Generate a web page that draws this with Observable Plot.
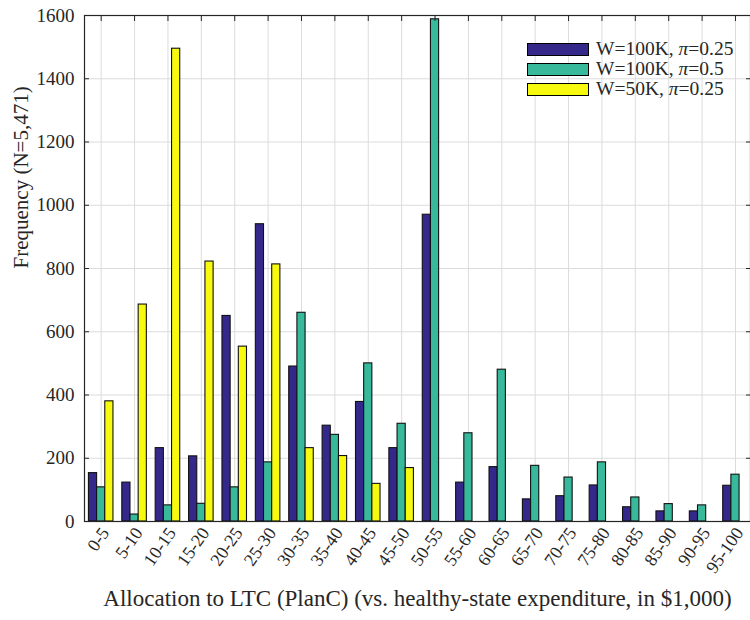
<!DOCTYPE html>
<html>
<head>
<meta charset="utf-8">
<script src="https://cdn.jsdelivr.net/npm/d3@7"></script>
<script src="https://cdn.jsdelivr.net/npm/@observablehq/plot@0.6"></script>
<style>
  html, body { margin: 0; padding: 0; background: #fff; }
  #chart { position: relative; width: 750px; height: 620px; font-family: "Liberation Serif", "DejaVu Serif", serif; }
  #chart svg, #chart svg text { font-family: "Liberation Serif", "DejaVu Serif", serif !important; }
  .legend { position: absolute; left: 527px; top: 39px; font-size: 19.5px; color: #262626; }
  .legend .row { display: flex; align-items: center; height: 20px; }
  .legend .row span { line-height: 18px; display: inline-block; }
  .legend .sw { width: 60px; height: 11px; border: 1.2px solid #000; margin-right: 7px; }
  .legend i { font-style: italic; }
</style>
</head>
<body>
<div id="chart"></div>
<script>
// Allocation bins (in $1,000)
const categories = ["0-5","5-10","10-15","15-20","20-25","25-30","30-35","35-40","40-45","45-50",
                    "50-55","55-60","60-65","65-70","70-75","75-80","80-85","85-90","90-95","95-100"];

// Frequencies per scenario
const seriesNames = ["W=100K, π=0.25", "W=100K, π=0.5", "W=50K, π=0.25"];
const w100p025 = [153,123,232,206,650,940,490,303,378,232,970,123,172,70,80,114,45,32,32,113];
const w100p05  = [108,22,51,56,108,187,660,274,500,309,1588,279,480,176,139,187,76,55,51,148];
const w50p025  = [380,686,1495,822,553,813,232,207,119,169,0,0,0,0,0,0,0,0,0,0];
const seriesColors = ["#34298a", "#38b99c", "#f7f90f"];

const yTicks = [0,200,400,600,800,1000,1200,1400,1600];

const seriesValues = [w100p025, w100p05, w50p025];
const barW = 0.245;
const rows = [];
categories.forEach((c, i) => {
  seriesValues.forEach((vals, j) => {
    const center = (i + 1) + (j - 1) * barW;
    rows.push({cat: c, series: seriesNames[j], value: vals[i], x1: center - barW / 2, x2: center + barW / 2});
  });
});
const catIdx = categories.map((c, i) => i + 1);

const axisColor = "#262626";
const chart = Plot.plot({
  width: 750,
  height: 620,
  marginLeft: 84,
  marginRight: 0,
  marginTop: 15,
  marginBottom: 99,
  style: {fontFamily: "'Liberation Serif', serif", fontSize: "19px", color: axisColor, background: "#fff"},
  x: {domain: [0.5, 20.45]},
  y: {domain: [0, 1600]},
  color: {domain: seriesNames, range: seriesColors},
  marks: [
    Plot.gridY(yTicks, {stroke: "#dcdcdc", strokeOpacity: 1}),
    Plot.gridX(catIdx, {stroke: "#dcdcdc", strokeOpacity: 1}),
    Plot.rectY(rows.filter(d => d.value > 0), {x1: "x1", x2: "x2", y1: 0, y2: "value", fill: "series", stroke: "#111", strokeWidth: 1.1}),
    Plot.frame({stroke: axisColor, strokeWidth: 1.2}),
    // inward tick marks
    Plot.axisY(yTicks, {anchor: "left", tickSize: -5, tickFormat: d => String(d), tickPadding: 15, label: null, fontSize: 19}),
    Plot.axisY(yTicks, {anchor: "right", tickSize: -5, text: null, label: null}),
    Plot.axisX(catIdx, {anchor: "top", tickSize: -5, text: null, label: null}),
    Plot.axisX(catIdx, {anchor: "bottom", tickSize: 0, tickFormat: d => categories[d - 1], tickRotate: -55, tickPadding: 8, label: null, fontSize: 18, dx: 4}),
    Plot.text(["Frequency (N=5,471)"], {frameAnchor: "left", rotate: -90, dx: -63, fontSize: 21, text: d => d}),
    Plot.text(["Allocation to LTC (PlanC) (vs. healthy-state expenditure, in $1,000)"], {frameAnchor: "bottom", dy: 84, dx: 0, fontSize: 23, text: d => d})
  ]
});

const root = document.getElementById("chart");
root.appendChild(chart);

const legend = document.createElement("div");
legend.className = "legend";
seriesNames.forEach((name, j) => {
  const row = document.createElement("div");
  row.className = "row";
  const sw = document.createElement("div");
  sw.className = "sw";
  sw.style.background = seriesColors[j];
  const label = document.createElement("span");
  const [w, p] = name.split("π");
  label.append(w);
  const it = document.createElement("i");
  it.textContent = "π";
  label.append(it);
  label.append(p);
  row.append(sw, label);
  legend.append(row);
});
root.appendChild(legend);
</script>
</body>
</html>
